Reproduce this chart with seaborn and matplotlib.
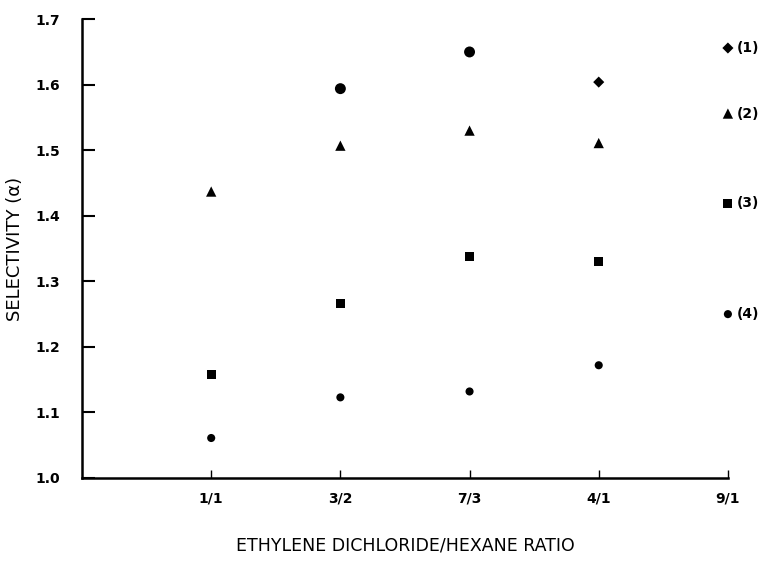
import numpy as np
import pandas as pd
import matplotlib
matplotlib.use("Agg")
import matplotlib.pyplot as plt
import seaborn as sns

# data
ratios = ['1/1', '3/2', '7/3', '4/1', '9/1']
sel_1 = [np.nan, 1.594, 1.650, 1.604, 1.656]
sel_2 = [1.437, 1.507, 1.530, 1.511, 1.556]
sel_3 = [1.158, 1.266, 1.338, 1.330, 1.419]
sel_4 = [1.061, 1.123, 1.132, 1.172, 1.250]
shape_1 = ['', 'big', 'big', 'diamond', 'diamond']
series_labels = ['(1)', '(2)', '(3)', '(4)']

rows = []
for i, r in enumerate(ratios):
    if not np.isnan(sel_1[i]):
        rows.append({'ratio': r, 'selectivity': sel_1[i], 'shape': shape_1[i]})
    rows.append({'ratio': r, 'selectivity': sel_2[i], 'shape': 'triangle'})
    rows.append({'ratio': r, 'selectivity': sel_3[i], 'shape': 'square'})
    rows.append({'ratio': r, 'selectivity': sel_4[i], 'shape': 'circle'})
df = pd.DataFrame(rows)

sns.set_style("white")
plt.rcParams['font.family'] = ['DejaVu Sans']
plt.rcParams['text.color'] = 'black'
plt.rcParams['axes.labelcolor'] = 'black'
plt.rcParams['xtick.color'] = 'black'
plt.rcParams['ytick.color'] = 'black'

fig = plt.figure(figsize=(7.63, 5.64), dpi=100)
ax = fig.add_axes([0.1075, 0.1525, 0.8465, 0.8135])

markers = {'big': 'o', 'diamond': 'D', 'triangle': '^', 'square': 's', 'circle': 'o'}
sizes = {'big': 62, 'diamond': 32, 'triangle': 55, 'square': 42, 'circle': 34}
sns.scatterplot(data=df, x='ratio', y='selectivity', style='shape', markers=markers,
                size='shape', sizes=sizes, color='black', edgecolor='black',
                linewidth=0, legend=False, ax=ax)
for coll in ax.collections:
    coll.set_clip_on(False)

# series labels next to the 9/1 points
last = len(ratios) - 1
for lab, vals in zip(series_labels, [sel_1, sel_2, sel_3, sel_4]):
    ax.text(last + 0.07, vals[last], lab, fontsize=10, fontweight='bold',
            va='center', ha='left', clip_on=False)

ax.set_xlim(-1, last)
ax.set_ylim(1.0, 1.7)
ax.set_yticks(np.arange(1.0, 1.71, 0.1))
ax.set_yticklabels(['1.0', '1.1', '1.2', '1.3', '1.4', '1.5', '1.6', '1.7'])
ax.set_xticks(range(len(ratios)))
ax.set_xticklabels(ratios)

ax.tick_params(axis='y', left=True, direction='in', length=9, width=1.5,
               labelsize=10, pad=16)
ax.tick_params(axis='x', bottom=True, direction='in', length=6, width=1,
               labelsize=10, pad=10)
for t in ax.get_xticklabels() + ax.get_yticklabels():
    t.set_fontweight('bold')
for s in ['top', 'right']:
    ax.spines[s].set_visible(False)
for s in ['left', 'bottom']:
    ax.spines[s].set_linewidth(1.8)
    ax.spines[s].set_color('black')

ax.set_xlabel('ETHYLENE DICHLORIDE/HEXANE RATIO', fontsize=12.5, labelpad=22)
ax.set_ylabel('SELECTIVITY (α)', fontsize=13, labelpad=8)

fig.savefig('out.png', dpi=100)
